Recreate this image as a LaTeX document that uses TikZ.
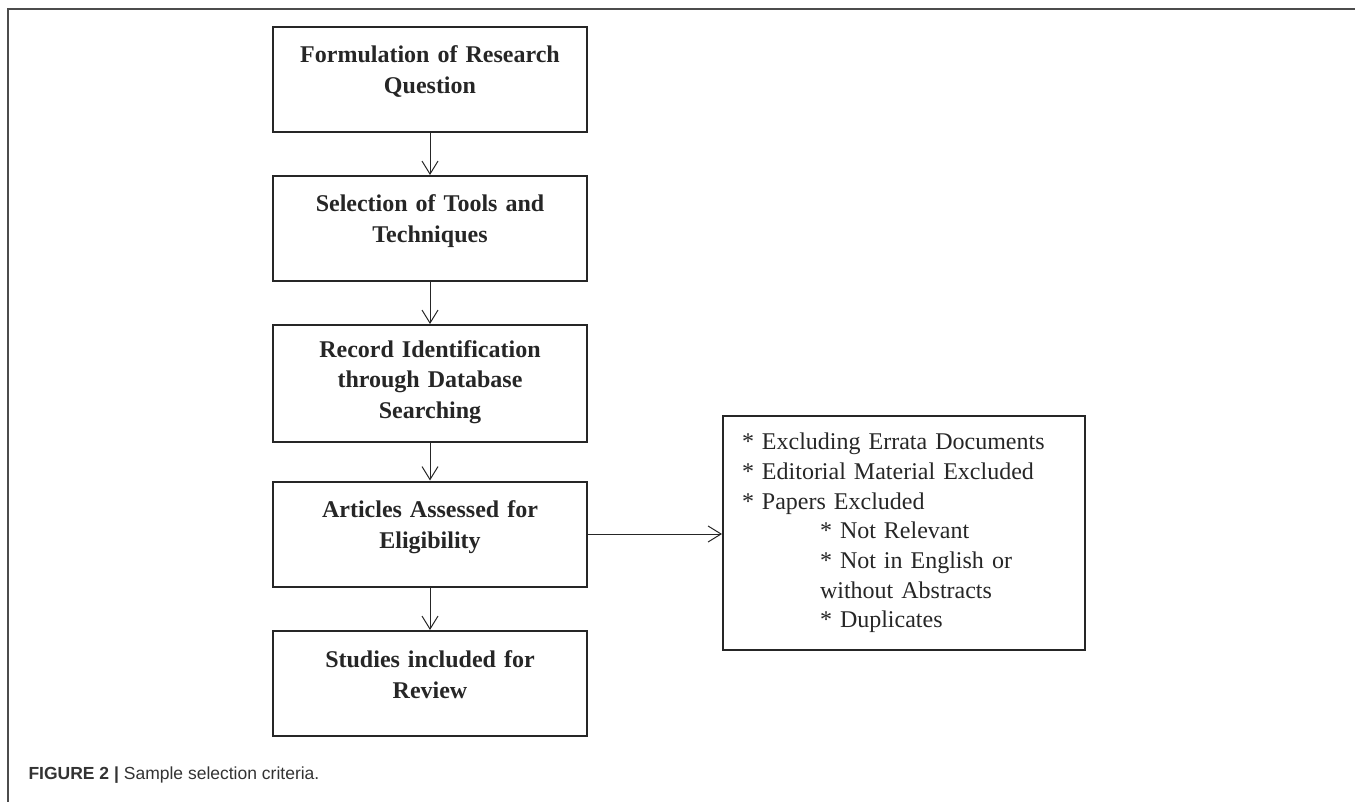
\documentclass[tikz,border=0pt]{standalone}
\usepackage{fontspec}
\setmainfont{Liberation Serif}
\newfontfamily\capfont{Liberation Sans}
\usetikzlibrary{arrows.meta}

\tikzset{
	stage/.style={draw=black!85, line width=2pt, minimum width=314pt, minimum height=105pt,
		text width=300pt, inner xsep=7pt, text height=17pt, text depth=50pt,
		align=center, text=black!85, font=\fontsize{24}{31}\selectfont\bfseries},
	flow/.style={-{Straight Barb[length=13pt,width=16pt]}, line width=1pt, black!85},
}

\begin{document}
\begin{tikzpicture}[x=1pt,y=-1pt]
	    	\useasboundingbox (0,0) rectangle (1355,802);
	    	\draw[line width=2pt,black!70] (8,802) -- (8,9) -- (1355,9);
	    	\node[stage] (question) at (430,79.5) {Formulation of Research\\Question};
	    	\node[stage] (tools) at (430,228.5) {Selection of Tools and\\Techniques};
	    	\node[stage,minimum height=117pt,text depth=70pt] (search) at (430,383.5) {Record Identification\\through Database\\Searching};
	    	\node[stage] (assess) at (430,534) {Articles Assessed for\\Eligibility};
	    	\node[stage] (review) at (430,683.5) {Studies included for\\Review};
	    	\node[draw=black!85, line width=2pt, minimum height=234pt, text width=324pt, inner xsep=19pt,
	    		align=left, text=black!85, font=\fontsize{24}{29.7}\selectfont] (exclude) at (904,533)
	    		{* Excluding Errata Documents\\
	    		 {*} Editorial Material Excluded\\
	    		 {*} Papers Excluded\\
	    		 \hspace*{78pt}* Not Relevant\\
	    		 \hspace*{78pt}* Not in English or\\
	    		 \hspace*{78pt}without Abstracts\\
	    		 \hspace*{78pt}* Duplicates};
	    	\foreach \a/\b in {question/tools,tools/search,search/assess,assess/review}
	    	{
	    		\draw[flow] (\a) -- (\b);
	    	}
	    	\draw[flow] (assess.east) -- (assess.east -| exclude.west);
	    	\node[anchor=base west, text=black!80, font=\capfont\fontsize{17.5}{20}\selectfont] (caption) at (25,779)
	    		{\textbf{FIGURE 2 |} Sample selection criteria.};
\end{tikzpicture}
\end{document}
